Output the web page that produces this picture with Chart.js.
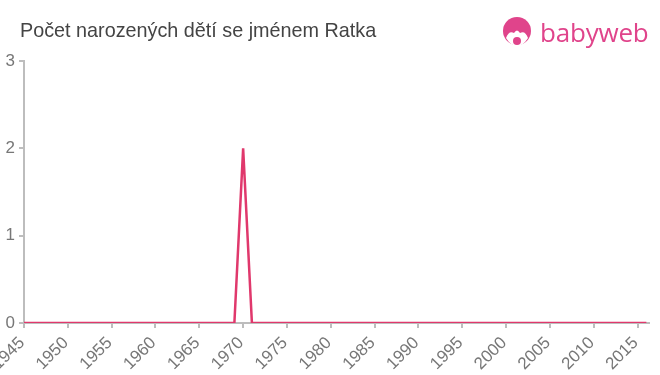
<!DOCTYPE html>
<html>
<head>
<meta charset="utf-8">
<script src="https://cdn.jsdelivr.net/npm/chart.js@4"></script>
<style>
  html, body { margin: 0; padding: 0; background: #fff; }
  #wrap { position: relative; width: 660px; height: 375px; overflow: hidden; }
  #title {
    position: absolute; left: 20px; top: 19px;
    font: 19.8px "Liberation Sans", Arial, sans-serif; color: #444;
  }
  #logo { position: absolute; left: 501px; top: 16px; height: 34px; }
  #logo span {
    position: absolute; left: 39px; top: -2px;
    font: 26px "Open Sans", "Liberation Sans", sans-serif; color: #e0448b;
    letter-spacing: -0.2px;
  }
  canvas { position: absolute; left: 0; top: 0; }
</style>
</head>
<body>
<div id="wrap">
  <canvas id="chart" width="660" height="375"></canvas>
  <div id="title">Počet narozených dětí se jménem Ratka</div>
  <div id="logo">
    <svg width="32" height="34" viewBox="0 0 32 34">
      <circle cx="16" cy="15" r="14" fill="#e0448b"/>
      <path d="M5 22 Q8 14 13 17 Q16 12 19 17 Q24 14 27 22 Q22 30 16 30 Q10 30 5 22 Z" fill="#fff"/>
      <circle cx="16" cy="25" r="4" fill="#e0448b"/>
    </svg>
    <span>babyweb</span>
  </div>
</div>
<script>
// počty narozených podle roku
const years = [];
for (let y = 1945; y <= 2016; y++) years.push(y);
const counts = [
  0, 0, 0, 0, 0, 0, 0, 0, 0, 0,   // 1945-1954
  0, 0, 0, 0, 0, 0, 0, 0, 0, 0,   // 1955-1964
  0, 0, 0, 0, 0, 2, 0, 0, 0, 0,   // 1965-1974
  0, 0, 0, 0, 0, 0, 0, 0, 0, 0,   // 1975-1984
  0, 0, 0, 0, 0, 0, 0, 0, 0, 0,   // 1985-1994
  0, 0, 0, 0, 0, 0, 0, 0, 0, 0,   // 1995-2004
  0, 0, 0, 0, 0, 0, 0, 0, 0, 0,   // 2005-2014
  0, 0                            // 2015-2016
];
const yTicks = [0, 1, 2, 3];

const axisColor = "#bdbdbd";
const tickFont = { family: "'Liberation Sans', Arial, sans-serif", size: 17 };

new Chart(document.getElementById("chart"), {
  type: "line",
  data: {
    datasets: [{
      data: years.map((y, i) => ({ x: y, y: counts[i] })),
      borderColor: "#e0386c",
      borderWidth: 2.5,
      pointRadius: 0,
      tension: 0,
      fill: false
    }]
  },
  options: {
    responsive: false,
    animation: false,
    layout: { padding: { top: 61, right: 11, left: 0, bottom: 0 } },
    plugins: { legend: { display: false }, tooltip: { enabled: false } },
    scales: {
      x: {
        type: "linear",
        min: 1945,
        max: 2016.3,
        border: { color: axisColor, width: 2 },
        grid: { drawOnChartArea: false, color: axisColor, tickLength: 5, lineWidth: 2 },
        ticks: {
          stepSize: 5, includeBounds: false, autoSkip: false,
          minRotation: 45, maxRotation: 45, padding: 5, labelOffset: -2,
          color: "#777", font: tickFont,
          callback: v => String(v)
        },
        afterFit: s => { s.height = 52; s.paddingLeft = 0; s.paddingRight = 0; }
      },
      y: {
        min: yTicks[0],
        max: yTicks[yTicks.length - 1],
        border: { color: axisColor, width: 2 },
        grid: { drawOnChartArea: false, color: axisColor, tickLength: 5, lineWidth: 2 },
        ticks: { stepSize: 1, padding: 4, color: "#777", font: tickFont },
        afterFit: s => { s.width = 24; }
      }
    }
  }
});
</script>
</body>
</html>
